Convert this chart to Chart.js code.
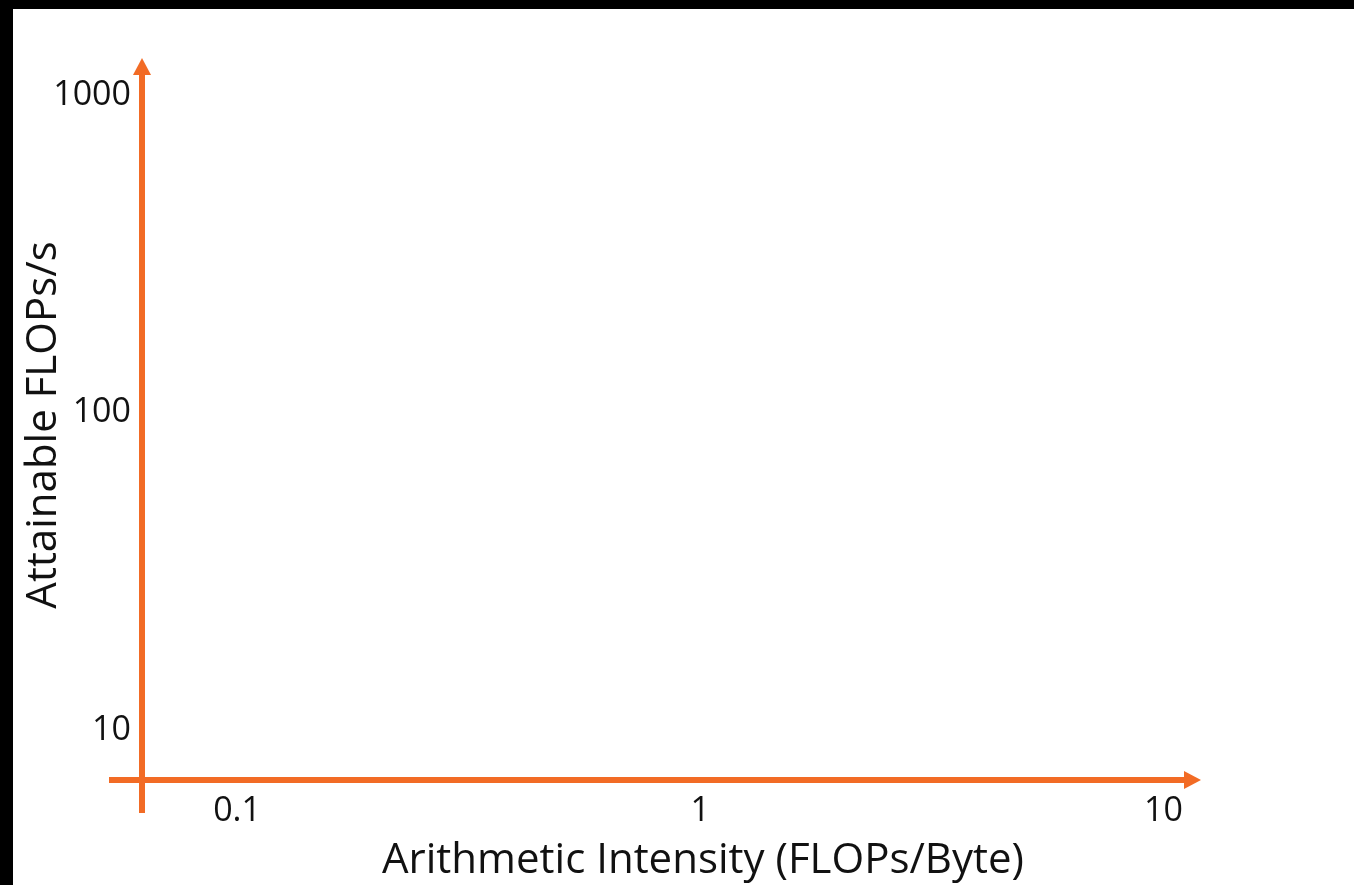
<!DOCTYPE html>
<html lang="en">
<head>
  <meta charset="UTF-8">
  <title>Roofline axes</title>
  <script src="https://cdn.jsdelivr.net/npm/chart.js"></script>
  <style>
    html, body {
      margin: 0;
      padding: 0;
      background: #000;
      overflow: hidden;
    }
    #wrap {
      position: absolute;
      left: 13px;
      top: 9px;
      width: 1341px;
      height: 876px;
      background: #fff;
    }
  </style>
</head>
<body>
  <div id="wrap"><canvas id="roofline"></canvas></div>

  <script>
    // axis data (log scales)
    const xTicks = [0.1, 1, 10];
    const yTicks = [10, 100, 1000];
    const xRange = [0.06235, 16.48];   // chart area extent
    const yRange = [6.96, 1199];
    const xArrowEnd = 12.05;            // where the axis arrows stop
    const yArrowEnd = 1308;
    const xTitle = 'Arithmetic Intensity (FLOPs/Byte)';
    const yTitle = 'Attainable FLOPs/s';
    const points = [];                  // no data plotted, only the axes

    const orange = '#F26B25';

    // draws the two orange axes with arrowheads
    const arrowAxes = {
      id: 'arrowAxes',
      afterDraw(chart) {
        const ctx = chart.ctx;
        const area = chart.chartArea;
        const xs = chart.scales.x;
        const ys = chart.scales.y;
        const x0 = area.left;
        const y0 = area.bottom;
        const xEnd = xs.getPixelForValue(xArrowEnd);
        const yEnd = ys.getPixelForValue(yArrowEnd);
        const head = 17, half = 9;

        ctx.save();
        ctx.strokeStyle = orange;
        ctx.fillStyle = orange;
        ctx.lineWidth = 6;

        // y axis
        ctx.beginPath();
        ctx.moveTo(x0, y0 + 33);
        ctx.lineTo(x0, yEnd + head - 1);
        ctx.stroke();
        ctx.beginPath();
        ctx.moveTo(x0, yEnd);
        ctx.lineTo(x0 - half, yEnd + head);
        ctx.lineTo(x0 + half, yEnd + head);
        ctx.closePath();
        ctx.fill();

        // x axis
        ctx.beginPath();
        ctx.moveTo(x0 - 33, y0);
        ctx.lineTo(xEnd - head + 1, y0);
        ctx.stroke();
        ctx.beginPath();
        ctx.moveTo(xEnd, y0);
        ctx.lineTo(xEnd - head, y0 - half);
        ctx.lineTo(xEnd - head, y0 + half);
        ctx.closePath();
        ctx.fill();
        ctx.restore();
      }
    };

    const ctx = document.getElementById('roofline').getContext('2d');
    new Chart(ctx, {
      type: 'scatter',
      data: {
        datasets: [{ data: points, showLine: false }]
      },
      options: {
        responsive: true,
        maintainAspectRatio: false,
        animation: false,
        layout: { padding: { top: 61, right: 90, bottom: 0, left: 0 } },
        plugins: {
          legend: { display: false },
          tooltip: { enabled: false }
        },
        scales: {
          x: {
            type: 'logarithmic',
            min: xRange[0],
            max: xRange[1],
            afterBuildTicks: s => { s.ticks = xTicks.map(v => ({ value: v })); },
            afterFit: s => { s.height = 105; },
            grid: { display: false, drawTicks: false },
            border: { display: false },
            ticks: {
              padding: 11,
              color: '#111',
              font: { family: 'Open Sans', size: 34 },
              callback: v => String(v),
              maxRotation: 0
            },
            title: {
              display: true,
              text: xTitle,
              color: '#111',
              font: { family: 'Open Sans', size: 42 },
              padding: { top: 0, bottom: -1 }
            }
          },
          y: {
            type: 'logarithmic',
            min: yRange[0],
            max: yRange[1],
            afterBuildTicks: s => { s.ticks = yTicks.map(v => ({ value: v })); },
            afterFit: s => { s.width = 129; },
            grid: { display: false, drawTicks: false },
            border: { display: false },
            ticks: {
              padding: 11,
              color: '#111',
              font: { family: 'Open Sans', size: 34 },
              callback: v => String(v)
            },
            title: {
              display: true,
              text: yTitle,
              color: '#111',
              font: { family: 'Open Sans', size: 42 },
              padding: { top: 6, bottom: 0 }
            }
          }
        }
      },
      plugins: [arrowAxes]
    });
  </script>
</body>
</html>
